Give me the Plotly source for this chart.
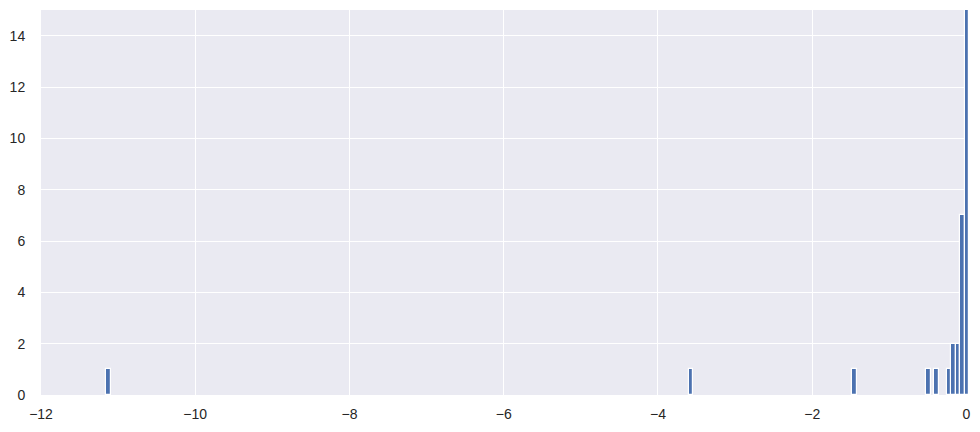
import plotly.graph_objects as go

# Histogram bins (bin centers, counts)
bin_width = 0.05594
bin_centers = [-11.125, -3.572, -1.450, -0.493, -0.389, -0.220, -0.169, -0.108, -0.052, 0.006]
counts = [1, 1, 1, 1, 1, 1, 2, 2, 7, 30]

x_ticks = [-12, -10, -8, -6, -4, -2, 0]
y_ticks = [0, 2, 4, 6, 8, 10, 12, 14]

fig = go.Figure(
    go.Bar(
        x=bin_centers,
        y=counts,
        width=[bin_width] * len(bin_centers),
        marker=dict(color="#4C72B0", line=dict(color="white", width=1.2)),
    )
)

fig.update_layout(
    width=980,
    height=432,
    margin=dict(l=41, r=11, t=10, b=37),
    paper_bgcolor="white",
    plot_bgcolor="#EAEAF2",
    font=dict(family="Liberation Sans, Arial, sans-serif", size=14, color="#262626"),
    showlegend=False,
    bargap=0,
)
fig.update_xaxes(
    range=[-12, 0.033],
    tickvals=x_ticks,
    showgrid=True,
    gridcolor="white",
    gridwidth=1.2,
    zeroline=False,
    showline=False,
    ticks="outside",
    ticklen=6,
    tickcolor="rgba(0,0,0,0)",
)
fig.update_yaxes(
    range=[0, 15],
    tickvals=y_ticks,
    showgrid=True,
    gridcolor="white",
    gridwidth=1.2,
    zeroline=False,
    showline=False,
    ticks="outside",
    ticklen=12,
    tickcolor="rgba(0,0,0,0)",
)

fig.write_html(
    "out.html",
    config={"displayModeBar": False},
    post_script="document.body.style.margin='0';document.body.style.overflow='hidden';",
)
